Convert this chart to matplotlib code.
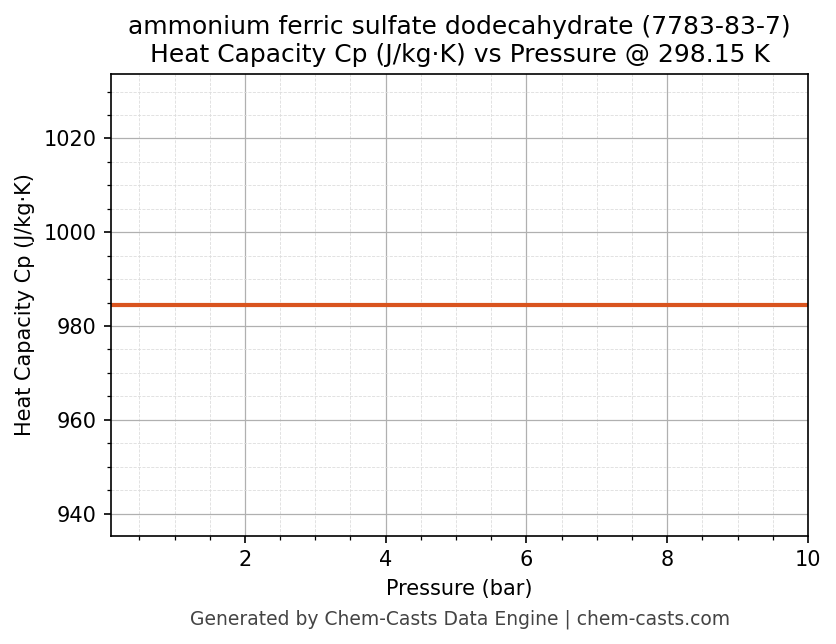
import numpy as np
import matplotlib
matplotlib.use("Agg")
import matplotlib.pyplot as plt
from matplotlib.ticker import AutoMinorLocator

# data
pressure_bar = [0.1, 10.0]
cp_jkgk = [984.5, 984.5]

fig, ax = plt.subplots(figsize=(836 / 150, 644 / 150), dpi=150)
ax.plot(pressure_bar, cp_jkgk, color="#d9541e", lw=2.0)

ax.set_xlim(0.1, 10)
ax.set_ylim(cp_jkgk[0] * 0.95, cp_jkgk[0] * 1.05)
ax.xaxis.set_minor_locator(AutoMinorLocator(4))
ax.yaxis.set_minor_locator(AutoMinorLocator(4))
ax.grid(True, which="major", color="#b0b0b0", lw=0.6)
ax.grid(True, which="minor", color="#dddddd", lw=0.4, ls="--")

ax.set_xlabel("Pressure (bar)")
ax.set_ylabel("Heat Capacity Cp (J/kg\u00b7K)")
ax.set_title("ammonium ferric sulfate dodecahydrate (7783-83-7)\n"
             "Heat Capacity Cp (J/kg\u00b7K) vs Pressure @ 298.15 K", fontsize=12)

fig.subplots_adjust(left=0.133, right=0.9665, top=0.885, bottom=0.168)
fig.text(0.55, 0.039, "Generated by Chem-Casts Data Engine | chem-casts.com",
         ha="center", va="center", fontsize=9, color="#444444")
fig.savefig("out.png", dpi=150)
